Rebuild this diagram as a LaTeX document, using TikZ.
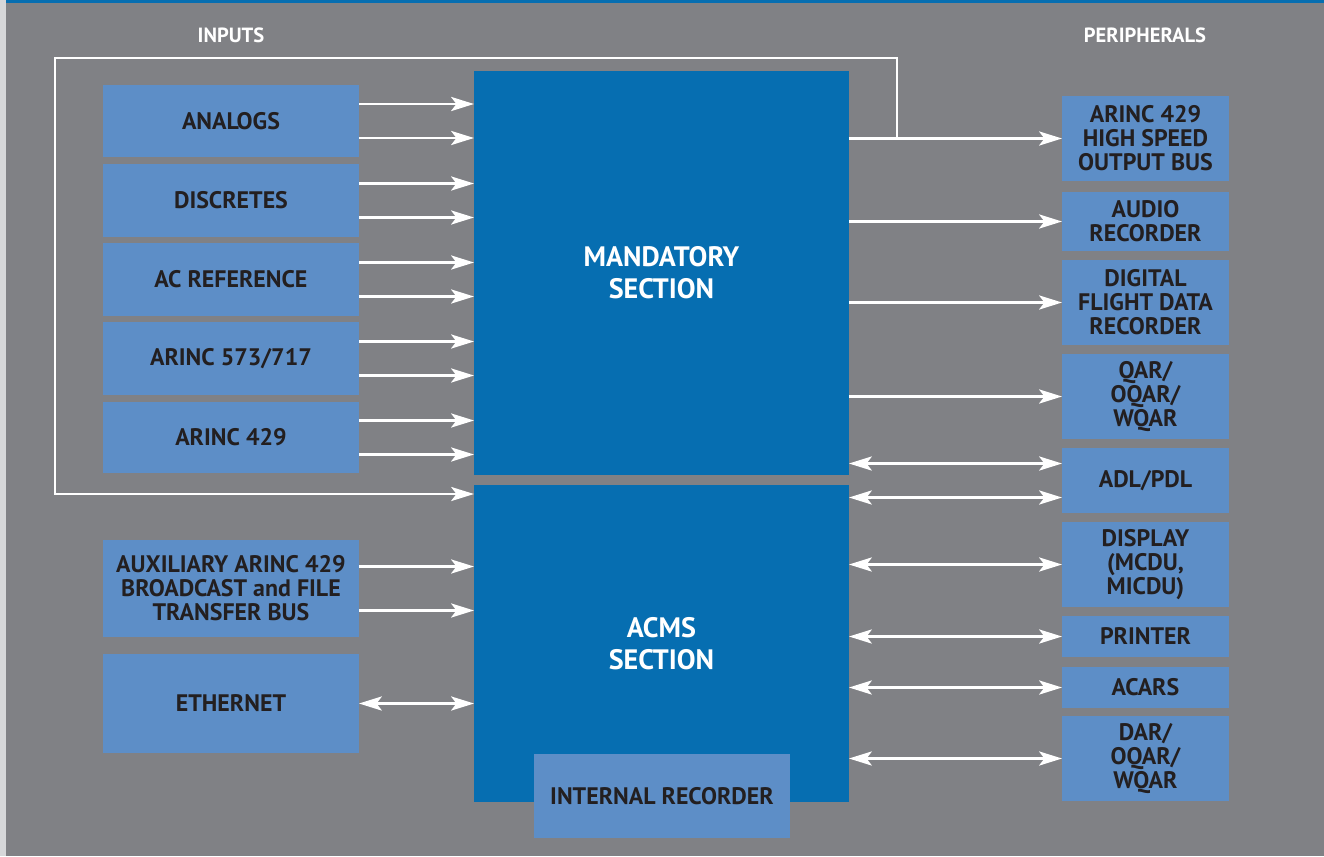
\documentclass[tikz,border=0pt]{standalone}
\usepackage{fontspec}
\setmainfont{PT Sans}
\usetikzlibrary{arrows.meta, positioning}

\definecolor{bggray}{HTML}{808185}
\definecolor{darkblue}{HTML}{066EB1}
\definecolor{lightblue}{HTML}{5D8EC7}
\definecolor{inktext}{HTML}{231F20}
\definecolor{stripgray}{HTML}{D6D7D9}

\begin{document}
\begin{tikzpicture}[
    x=0.02cm, y=-0.02cm,
    box/.style={rectangle, anchor=north west, inner sep=0pt, outer sep=0pt, align=center,
        font=\fontsize{13.6}{13.6}\selectfont\bfseries, text=inktext},
    in_box/.style={box, fill=lightblue, minimum width=5.12cm},
    out_box/.style={box, fill=lightblue, minimum width=3.34cm},
    sec_box/.style={box, fill=darkblue, minimum width=7.5cm, text=white,
        font=\fontsize{16}{18}\selectfont\bfseries},
    head/.style={font=\fontsize{11.7}{13}\selectfont\bfseries, text=white},
    arrow/.style={-{Stealth[length=13pt, width=8pt, inset=3pt]}, white, line width=1.7pt},
    biarrow/.style={{Stealth[length=13pt, width=8pt, inset=3pt]}-{Stealth[length=13pt, width=8pt, inset=3pt]}, white, line width=1.7pt},
    loopline/.style={arrow, line width=1.4pt}
]

% Background
\useasboundingbox (0,0) rectangle (1324,856);
\fill[bggray] (0,0) rectangle (1324,856);
\fill[stripgray] (0,0) rectangle (6,856);
\fill[darkblue] (6,0) rectangle (1324,2.5);

% Headings
\node[head] (inputs) at (231,35) {INPUTS};
\node[head] (periph) at (1145,35) {PERIPHERALS};

% Inputs
\node[in_box, minimum height=1.44cm] (analogs) at (103,85) {ANALOGS};
\node[in_box, minimum height=1.46cm] (discretes) at (103,164) {DISCRETES};
\node[in_box, minimum height=1.46cm] (acref) at (103,243) {AC REFERENCE};
\node[in_box, minimum height=1.46cm] (arinc573) at (103,322) {ARINC 573/717};
\node[in_box, minimum height=1.42cm] (arinc429) at (103,402) {ARINC 429};
\node[in_box, minimum height=1.94cm] (aux) at (103,540) {AUXILIARY ARINC 429\\BROADCAST and FILE\\TRANSFER BUS};
\node[in_box, minimum height=1.98cm] (ethernet) at (103,654) {ETHERNET};

% Sections
\node[sec_box, minimum height=8.08cm] (mand) at (474,71) {MANDATORY\\SECTION};
\node[sec_box, minimum height=6.34cm] (acms) at (474,485) {ACMS\\SECTION};
\node[in_box, minimum height=1.68cm] (intrec) at (534,754) {INTERNAL RECORDER};

% Peripherals
\node[out_box, minimum height=1.7cm] (hsbus) at (1062,96) {ARINC 429\\HIGH SPEED\\OUTPUT BUS};
\node[out_box, minimum height=1.18cm] (audio) at (1062,192) {AUDIO\\RECORDER};
\node[out_box, minimum height=1.7cm] (dfdr) at (1062,260) {DIGITAL\\FLIGHT DATA\\RECORDER};
\node[out_box, minimum height=1.7cm] (qar) at (1062,354) {QAR/\\OQAR/\\WQAR};
\node[out_box, minimum height=1.3cm] (adl) at (1062,448) {ADL/PDL};
\node[out_box, minimum height=1.7cm] (display) at (1062,522) {DISPLAY\\(MCDU,\\MICDU)};
\node[out_box, minimum height=0.82cm] (printer) at (1062,616) {PRINTER};
\node[out_box, minimum height=0.82cm] (acars) at (1062,667) {ACARS};
\node[out_box, minimum height=1.7cm] (dar) at (1062,716) {DAR/\\OQAR/\\WQAR};

% Input arrows
\foreach \src in {analogs, discretes, acref, arinc573, arinc429} {
    \draw[arrow] ([yshift=0.34cm]\src.east) -- ([yshift=0.34cm]\src.east -| mand.west);
    \draw[arrow] ([yshift=-0.34cm]\src.east) -- ([yshift=-0.34cm]\src.east -| mand.west);
}
\draw[arrow] ([yshift=0.44cm]aux.east) -- ([yshift=0.44cm]aux.east -| acms.west);
\draw[arrow] ([yshift=-0.44cm]aux.east) -- ([yshift=-0.44cm]aux.east -| acms.west);
\draw[biarrow] (ethernet.east) -- (ethernet.east -| acms.west);

% Output arrows
\draw[arrow] (hsbus.west -| mand.east) -- (hsbus.west);
\foreach \dst in {audio, dfdr, qar}
    \draw[arrow] (\dst.west -| mand.east) -- (\dst.west);
\draw[biarrow] ([yshift=0.34cm]adl.west -| mand.east) -- ([yshift=0.34cm]adl.west);
\draw[biarrow] ([yshift=-0.34cm]adl.west -| acms.east) -- ([yshift=-0.34cm]adl.west);
\foreach \dst in {display, printer, acars, dar}
    \draw[biarrow] (\dst.west -| acms.east) -- (\dst.west);

% Loop back from high speed bus
\coordinate (tap) at (897,138);
\coordinate (loopcorner) at (55,58);
\draw[loopline] (tap) |- (loopcorner) |- ([yshift=-0.18cm]acms.north west);

\end{tikzpicture}
\end{document}
